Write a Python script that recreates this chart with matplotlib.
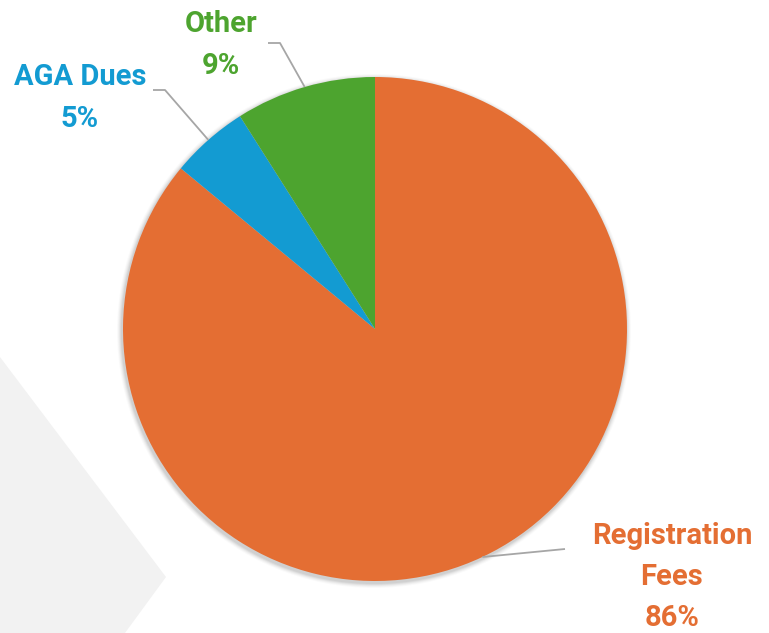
import numpy as np
import matplotlib.pyplot as plt
from matplotlib.patches import Polygon, Circle

# data
labels = ["Registration\nFees", "AGA Dues", "Other"]
shares = [86, 5, 9]
colors = ["#E46E33", "#139BD2", "#4DA42F"]

# label anchor points (pixels from top-left) and elbow of leader lines
label_pos = [(672, 577), (80, 98), (221, 45)]
elbow = [(565, 549), (153, 90), (268, 43)]

W, H = 769, 633
fig = plt.figure(figsize=(W / 100, H / 100), dpi=100, facecolor="white")
ax = fig.add_axes([0, 0, 1, 1])
ax.set_xlim(0, W)
ax.set_ylim(0, H)
ax.set_aspect("equal")
ax.axis("off")

# light gray background shape
ax.add_patch(Polygon([(0, H - 357), (166, H - 577), (125, 0), (0, 0)],
                     closed=True, facecolor="#F2F2F2", edgecolor="none", zorder=0))

cx, cy, R = 375, H - 329, 252

# soft shadow
for i, a in enumerate([0.05, 0.05, 0.04, 0.03, 0.02]):
    ax.add_patch(Circle((cx - 1, cy - 2), R + 1 + i, facecolor="#000000",
                        alpha=a, edgecolor="none", zorder=1))

wedges, _ = ax.pie(shares, colors=colors, startangle=90, counterclock=False,
                   radius=R, center=(cx, cy), frame=True,
                   wedgeprops=dict(edgecolor="none", zorder=2))
ax.set_xlim(0, W)
ax.set_ylim(0, H)
ax.axis("off")

for w, lab, s, col, (tx, ty), (ex, ey) in zip(wedges, labels, shares, colors, label_pos, elbow):
    ang = np.radians((w.theta1 + w.theta2) / 2)
    px, py = cx + R * np.cos(ang), cy + R * np.sin(ang)
    ey = H - ey
    if px < cx:
        xs = [ex, ex + 12, px]
        ys = [ey, ey, py]
    else:
        xs = [ex, px]
        ys = [ey, py]
    ax.plot(xs, ys, color="#A6A6A6", lw=1.3, zorder=3, solid_capstyle="butt")
    ax.text(tx, H - ty, f"{lab}\n{s}%", color=col, fontsize=21, fontweight="bold",
            family="Roboto", ha="center", va="center", linespacing=1.6, zorder=4)

fig.savefig("out.png", dpi=100, facecolor="white")
